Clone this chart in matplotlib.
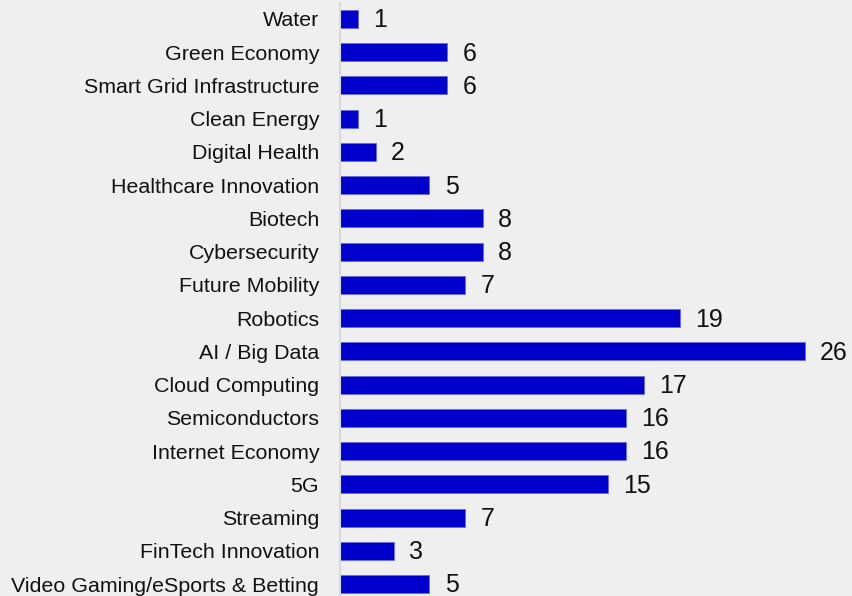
import matplotlib.pyplot as plt

# categories listed top to bottom, with fund counts
categories = ['Water', 'Green Economy', 'Smart Grid Infrastructure', 'Clean Energy',
              'Digital Health', 'Healthcare Innovation', 'Biotech', 'Cybersecurity',
              'Future Mobility', 'Robotics', 'AI / Big Data', 'Cloud Computing',
              'Semiconductors', 'Internet Economy', '5G', 'Streaming',
              'FinTech Innovation', 'Video Gaming/eSports & Betting']
counts = [1, 6, 6, 1, 2, 5, 8, 8, 7, 19, 26, 17, 16, 16, 15, 7, 3, 5]

plt.rcParams['font.family'] = ['Liberation Sans', 'DejaVu Sans']

fig = plt.figure(figsize=(8.53, 5.96), dpi=100, facecolor='#efefef')
ax = fig.add_axes([340 / 853, 0, 513 / 853, 593 / 596])
ax.set_facecolor('#efefef')

n = len(categories)
ypos = list(range(n - 1, -1, -1))
bars = ax.barh(ypos, counts, height=0.54, color='#0000cc', edgecolor='#6a6ae0', linewidth=0.6)

for y, v in zip(ypos, counts):
    ax.annotate(str(v), (v, y), xytext=(11, -1), textcoords='offset points',
                ha='left', va='center', fontsize=18, color='#111111')

ax.set_yticks(ypos)
ax.set_yticklabels(categories, fontsize=15.4, color='#111111')
ax.tick_params(axis='y', length=0, pad=15)
ax.set_xticks([])
ax.set_xlim(0, 28.7)
ax.set_ylim(-0.36, n - 1 + 0.48)

for side in ['top', 'right', 'bottom']:
    ax.spines[side].set_visible(False)
ax.spines['left'].set_color('#d8d8d8')
ax.spines['left'].set_linewidth(1.5)

fig.savefig('out.png', dpi=100, facecolor=fig.get_facecolor())
